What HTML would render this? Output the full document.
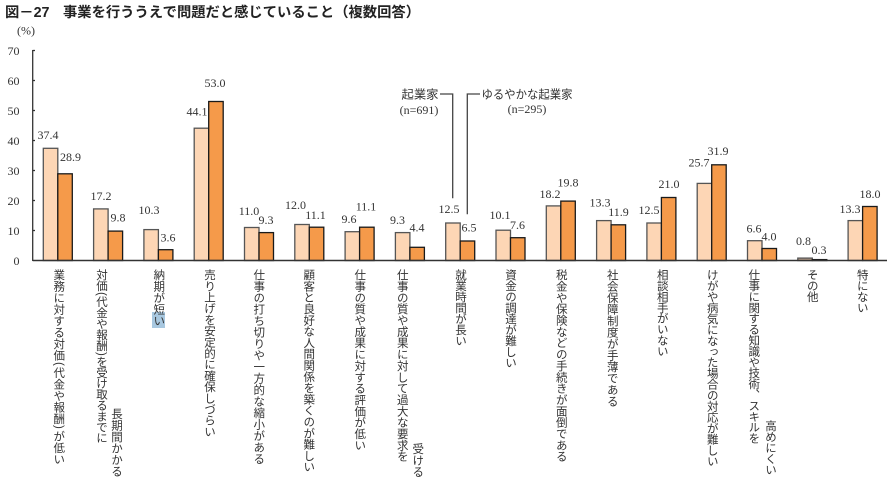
<!DOCTYPE html>
<html><head><meta charset="utf-8">
<style>
html,body{margin:0;padding:0;background:#fff;}
body{width:894px;height:492px;position:relative;overflow:hidden;}
svg{position:absolute;left:0;top:0;}
.v{position:absolute;top:269px;width:12px;writing-mode:vertical-rl;font-family:"Liberation Sans","Noto Sans CJK JP",sans-serif;font-size:11.5px;line-height:12px;color:#333;white-space:nowrap;}
.p{padding:1px 0;}
.hl{position:absolute;left:151.7px;top:311.7px;width:13.3px;height:16px;background:#a8c8e0;}
</style></head>
<body>
<svg width="894" height="492" viewBox="0 0 894 492">
<g font-family="'Liberation Sans','Noto Sans CJK JP',sans-serif" font-weight="bold" font-size="14.3" fill="#222">
<text x="5" y="17">図－27</text>
<text x="63" y="17">事業を行ううえで問題だと感じていること（複数回答）</text>
</g>
<g font-family="'Liberation Serif',serif" font-size="12" fill="#333">
<text x="26" y="34.5" text-anchor="middle">(%)</text>
<g text-anchor="end">
<text x="19.5" y="55">70</text>
<text x="19.5" y="85">60</text>
<text x="19.5" y="115">50</text>
<text x="19.5" y="145">40</text>
<text x="19.5" y="175">30</text>
<text x="19.5" y="205">20</text>
<text x="19.5" y="235">10</text>
<text x="19.5" y="265">0</text>
</g>
</g>
<g stroke="#333" stroke-width="1.3">
<line x1="32.7" y1="50" x2="32.7" y2="261"/>
<line x1="32.7" y1="50.5" x2="35" y2="50.5"/>
<line x1="32.7" y1="80.5" x2="35" y2="80.5"/>
<line x1="32.7" y1="110.5" x2="35" y2="110.5"/>
<line x1="32.7" y1="140.5" x2="35" y2="140.5"/>
<line x1="32.7" y1="170.5" x2="35" y2="170.5"/>
<line x1="32.7" y1="200.5" x2="35" y2="200.5"/>
<line x1="32.7" y1="230.5" x2="35" y2="230.5"/>
</g>
<!-- bars -->
<g fill="#FDD6B5" stroke="#555" stroke-width="1.3">
<rect x="43.3" y="148.3" width="14.5" height="112.2"/>
<rect x="93.6" y="208.9" width="14.5" height="51.6"/>
<rect x="143.9" y="229.6" width="14.5" height="30.9"/>
<rect x="194.2" y="128.2" width="14.5" height="132.3"/>
<rect x="244.5" y="227.5" width="14.5" height="33"/>
<rect x="294.8" y="224.5" width="14.5" height="36"/>
<rect x="345.1" y="231.7" width="14.5" height="28.8"/>
<rect x="395.4" y="232.6" width="14.5" height="27.9"/>
<rect x="445.7" y="223" width="14.5" height="37.5"/>
<rect x="496.0" y="230.2" width="14.5" height="30.3"/>
<rect x="546.3" y="205.9" width="14.5" height="54.6"/>
<rect x="596.6" y="220.6" width="14.5" height="39.9"/>
<rect x="646.9" y="223" width="14.5" height="37.5"/>
<rect x="697.2" y="183.4" width="14.5" height="77.1"/>
<rect x="747.5" y="240.7" width="14.5" height="19.8"/>
<rect x="797.8" y="258.1" width="14.5" height="2.4" fill="#c2a48e"/>
<rect x="848.1" y="220.6" width="14.5" height="39.9"/>
</g>
<g fill="#F59A4A" stroke="#1a1a1a" stroke-width="1.3">
<rect x="57.8" y="173.8" width="14.5" height="86.7"/>
<rect x="108.1" y="231.1" width="14.5" height="29.4"/>
<rect x="158.4" y="249.7" width="14.5" height="10.8"/>
<rect x="208.7" y="101.5" width="14.5" height="159"/>
<rect x="259.0" y="232.6" width="14.5" height="27.9"/>
<rect x="309.3" y="227.2" width="14.5" height="33.3"/>
<rect x="359.6" y="227.2" width="14.5" height="33.3"/>
<rect x="409.9" y="247.3" width="14.5" height="13.2"/>
<rect x="460.2" y="241" width="14.5" height="19.5"/>
<rect x="510.5" y="237.7" width="14.5" height="22.8"/>
<rect x="560.8" y="201.1" width="14.5" height="59.4"/>
<rect x="611.1" y="224.8" width="14.5" height="35.7"/>
<rect x="661.4" y="197.5" width="14.5" height="63"/>
<rect x="711.7" y="164.8" width="14.5" height="95.7"/>
<rect x="762.0" y="248.5" width="14.5" height="12"/>
<rect x="812.3" y="259.6" width="14.5" height="0.9" fill="#111"/>
<rect x="862.6" y="206.5" width="14.5" height="54"/>
</g>
<line x1="32.7" y1="260.5" x2="887" y2="260.5" stroke="#333" stroke-width="1.6"/>
<!-- value labels -->
<g font-family="'Liberation Serif',serif" font-size="12" fill="#333" text-anchor="middle">
<text x="48" y="139">37.4</text><text x="70.5" y="161">28.9</text>
<text x="101" y="200">17.2</text><text x="118" y="221.5">9.8</text>
<text x="149" y="214">10.3</text><text x="168" y="241.5">3.6</text>
<text x="197" y="115.5">44.1</text><text x="215" y="87">53.0</text>
<text x="249" y="215">11.0</text><text x="266" y="224">9.3</text>
<text x="295.5" y="209">12.0</text><text x="315.5" y="219">11.1</text>
<text x="349" y="223">9.6</text><text x="366" y="210.5">11.1</text>
<text x="397.5" y="224">9.3</text><text x="417" y="231.5">4.4</text>
<text x="449" y="213">12.5</text><text x="469" y="231.5">6.5</text>
<text x="500" y="219">10.1</text><text x="517.5" y="229">7.6</text>
<text x="550" y="198">18.2</text><text x="568" y="186.5">19.8</text>
<text x="600" y="206.5">13.3</text><text x="618.5" y="216">11.9</text>
<text x="649" y="214">12.5</text><text x="669" y="188">21.0</text>
<text x="699" y="166.5">25.7</text><text x="718" y="155">31.9</text>
<text x="754" y="232.5">6.6</text><text x="769" y="240.5">4.0</text>
<text x="803.5" y="245">0.8</text><text x="819" y="254">0.3</text>
<text x="850" y="213">13.3</text><text x="870" y="198">18.0</text>
</g>
<!-- legend -->
<g fill="none" stroke="#444" stroke-width="1.3">
<polyline points="440,94 452.7,94 452.7,198.3"/>
<polyline points="480,94 467.3,94 467.3,214.3"/>
</g>
<g font-family="'Liberation Sans','Noto Sans CJK JP',sans-serif" font-size="12" fill="#333">
<text x="401.5" y="98.5" textLength="37" lengthAdjust="spacingAndGlyphs">起業家</text>
<text x="481.5" y="98.5" textLength="91" lengthAdjust="spacingAndGlyphs">ゆるやかな起業家</text>
</g>
<g font-family="'Liberation Serif',serif" font-size="12" fill="#333" text-anchor="middle">
<text x="419" y="114">(n=691)</text>
<text x="527" y="113">(n=295)</text>
</g>
</svg>
<div class="hl"></div>
<div class="v" style="left:52.3px;letter-spacing:0px;">業務に対する対価<span class="p">(</span>代金や報酬<span class="p">)</span>が低い</div>
<div class="v" style="left:95px;letter-spacing:-0.6px;">対価<span class="p">(</span>代金や報酬<span class="p">)</span>を受け取るまでに</div>
<div class="v" style="left:110px;top:407.5px;">長期間かかる</div>
<div class="v" style="left:152.3px;">納期が短い</div>
<div class="v" style="left:203px;letter-spacing:-0.3px;">売り上げを安定的に確保しづらい</div>
<div class="v" style="left:252.3px;">仕事の打ち切りや一方的な縮小がある</div>
<div class="v" style="left:302.3px;letter-spacing:-0.2px;">顧客と良好な人間関係を築くのが難しい</div>
<div class="v" style="left:353.3px;letter-spacing:-0.15px;">仕事の質や成果に対する評価が低い</div>
<div class="v" style="left:395.7px;letter-spacing:-0.15px;">仕事の質や成果に対して過大な要求を</div>
<div class="v" style="left:411.3px;top:442.5px;">受ける</div>
<div class="v" style="left:454px;letter-spacing:-0.5px;">就業時間が長い</div>
<div class="v" style="left:504px;letter-spacing:-0.5px;">資金の調達が難しい</div>
<div class="v" style="left:554.7px;letter-spacing:-0.15px;">税金や保険などの手続きが面倒である</div>
<div class="v" style="left:605.7px;">社会保障制度が手薄である</div>
<div class="v" style="left:655.7px;letter-spacing:-0.6px;">相談相手がいない</div>
<div class="v" style="left:705.7px;letter-spacing:-0.55px;">けがや病気になった場合の対応が難しい</div>
<div class="v" style="left:747.3px;letter-spacing:-0.6px;">仕事に関する知識や技術、スキルを</div>
<div class="v" style="left:764px;top:419.5px;letter-spacing:-0.5px;">高めにくい</div>
<div class="v" style="left:805.7px;letter-spacing:-0.5px;">その他</div>
<div class="v" style="left:855.7px;letter-spacing:-0.6px;">特にない</div>
</body></html>
